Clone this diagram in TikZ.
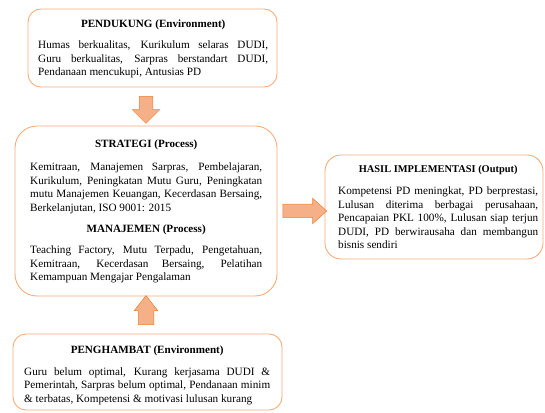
\documentclass[tikz,border=0pt]{standalone}
\usepackage{fontspec}
\setmainfont{Liberation Serif}
\usetikzlibrary{shapes.arrows, calc}
\hyphenpenalty=10000
\exhyphenpenalty=10000
\definecolor{boxorange}{RGB}{245,172,122}
\definecolor{arroworange}{RGB}{237,125,49}
\definecolor{arrowfill}{RGB}{246,176,136}
\tikzset{
  box/.style={draw=boxorange, line width=0.9pt, rounded corners=#1, inner sep=0pt},
  box/.default=12pt,
  title/.style={font=\fontsize{11.1}{13.4}\selectfont\bfseries, inner sep=0pt},
  body/.style={font=\fontsize{11.2}{13.4}\selectfont, align=justify, text width=#1, inner sep=0pt, anchor=north west},
  blockarrow/.style={single arrow, draw=arroworange, fill=arrowfill, line width=0.5pt, inner xsep=0pt, minimum width=0pt, single arrow head extend=#1},
}
\begin{document}
\begin{tikzpicture}[x=1pt, y=1pt]
  \useasboundingbox (0,0) rectangle (545,412);
  % boxes
  \node(pend)[box=13pt, minimum width=249pt, minimum height=78pt] at (152.5,364) {};
  \node(strat)[box=22pt, minimum width=262pt, minimum height=170pt] at (146,201) {};
  \node(hamb)[box=13pt, minimum width=269pt, minimum height=76pt] at (147.5,40) {};
  \node(hasil)[box=16pt, minimum width=218pt, minimum height=104pt] at (434,205) {};

  % texts
  \node(pendbody)[body=230pt] at (38,371) {Humas berkualitas, Kurikulum selaras DUDI,\linebreak Guru berkualitas, Sarpras berstandart DUDI,\linebreak Pendanaan mencukupi, Antusias PD};
  \node(pendtitle)[title] at (pendbody.north |- 0,387) {PENDUKUNG (Environment)};

  \node(stratbody)[body=232pt] at (30,249) {Kemitraan, Manajemen Sarpras, Pembelajaran,\linebreak Kurikulum, Peningkatan Mutu Guru, Peningkatan\linebreak mutu Manajemen Keuangan, Kecerdasan Bersaing,\linebreak Berkelanjutan, ISO 9001: 2015};
  \node(strattitle)[title] at (stratbody.north |- 0,267) {STRATEGI (Process)};
  \node(manbody)[body=232pt] at (30,166) {Teaching Factory, Mutu Terpadu, Pengetahuan,\linebreak Kemitraan, Kecerdasan Bersaing, Pelatihan\linebreak Kemampuan Mengajar Pengalaman};
  \node(mantitle)[title] at (manbody.north |- 0,182) {MANAJEMEN (Process)};

  \node(hambbody)[body=246pt] at (24,44.5) {Guru belum optimal, Kurang kerjasama DUDI \&\linebreak Pemerintah, Sarpras belum optimal, Pendanaan minim\linebreak \& terbatas, Kompetensi \& motivasi lulusan kurang};
  \node(hambtitle)[title] at (hambbody.north |- 0,61) {PENGHAMBAT (Environment)};

  \node(hasilbody)[body=200pt] at (338,225) {Kompetensi PD meningkat, PD berprestasi,\linebreak Lulusan diterima berbagai perusahaan,\linebreak Pencapaian PKL 100\%, Lulusan siap terjun\linebreak DUDI, PD berwirausaha dan membangun\linebreak bisnis sendiri};
  \node(hasiltitle)[title, font=\fontsize{10.4}{12}\selectfont\bfseries] at (hasilbody.north |- 0,242) {HASIL IMPLEMENTASI (Output)};

  % block arrows
  \node(down)[blockarrow=7pt, rotate=-90, inner ysep=6.5pt, minimum height=27pt] at ($(strat.north |- pend.south)!0.5!(strat.north)$) {};
  \node(up)[blockarrow=4pt, single arrow tip angle=76, rotate=90, inner ysep=7.5pt, minimum height=29pt] at ($(strat.south)!0.5!(strat.south |- hamb.north)$) {};
  \node(right)[blockarrow=6pt, single arrow tip angle=84, inner ysep=6.5pt, minimum height=44pt] at ($(strat.east)!0.5!(strat.east -| hasil.west)$) {};
\end{tikzpicture}
\end{document}
